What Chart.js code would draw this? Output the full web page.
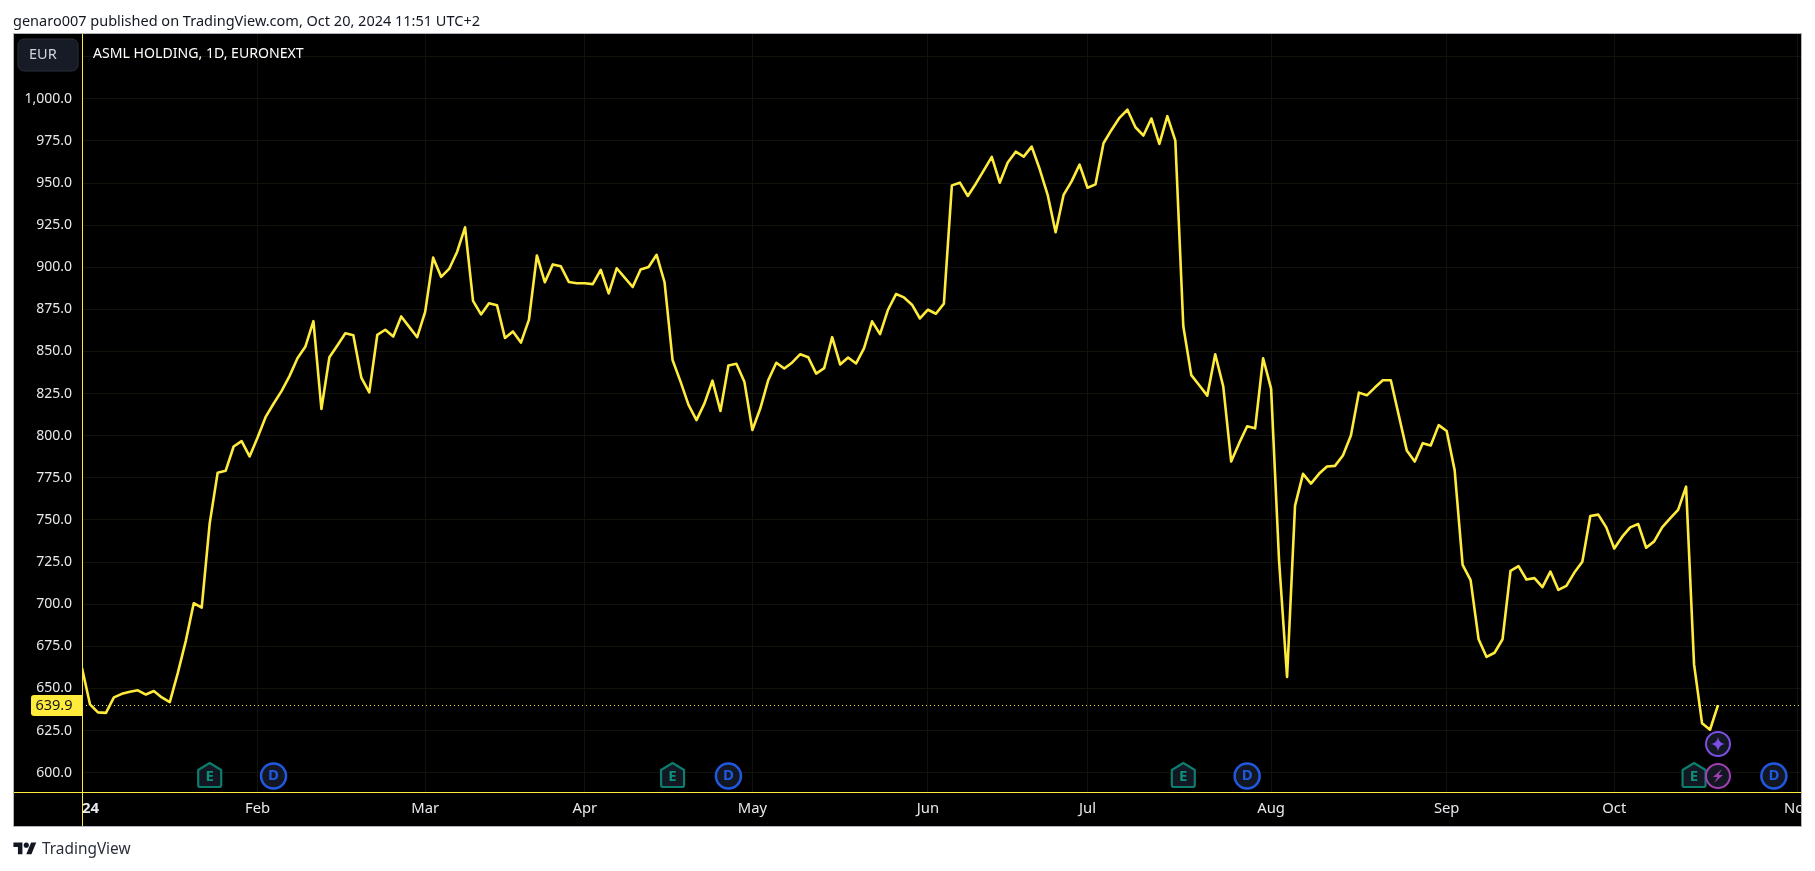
<!DOCTYPE html>
<html>
<head>
<meta charset="utf-8">
<title>ASML HOLDING, 1D, EURONEXT</title>
<script src="https://cdn.jsdelivr.net/npm/chart.js@4/dist/chart.umd.min.js"></script>
<style>
html,body{margin:0;padding:0;background:#fff;width:1815px;height:871px;overflow:hidden}
canvas{position:absolute;left:0;top:0}
.t{position:absolute;font-family:"Noto Sans",sans-serif;color:#131722;white-space:nowrap}
#head{left:13px;top:10px;font-size:14.5px;line-height:20px}
#brand{left:42px;top:838px;font-size:15.4px;line-height:22px;color:#2a2e39}
#logo{position:absolute;left:13px;top:840px}
</style>
</head>
<body>
<canvas id="c" width="1815" height="871"></canvas>
<div class="t" id="head">genaro007 published on TradingView.com, Oct 20, 2024 11:51 UTC+2</div>
<svg id="logo" width="24" height="18" viewBox="0 0 36 28"><path fill="#131722" d="M14 22H7V11H0V4h14v18zM28 22h-8l7.5-18h8L28 22z"/><circle fill="#131722" cx="20" cy="8" r="4"/></svg>
<div class="t" id="brand">TradingView</div>
<script>
const closes = [
662.2,640.6,635.8,635.5,644.7,646.8,648.0,648.9,646.4,648.5,
644.7,641.9,659.1,678.1,700.6,698.0,748.0,778.1,779.2,793.6,
796.8,787.7,798.9,811.0,819.0,826.5,835.4,846.0,853.0,868.0,
815.9,846.6,853.6,860.8,859.7,834.5,825.8,859.9,862.9,858.9,
870.8,864.6,858.5,873.5,905.7,894.3,899.0,909.1,923.7,880.1,
872.0,878.6,877.5,858.0,861.9,855.3,868.8,907.0,891.1,901.7,
900.6,891.3,890.5,890.5,890.0,898.5,884.5,899.4,893.9,888.3,
898.7,900.2,907.4,891.1,845.0,832.1,818.3,809.3,819.2,832.7,
814.7,841.7,842.7,832.1,803.4,816.3,833.1,843.3,839.9,843.5,
848.4,846.6,836.9,840.1,858.5,842.3,846.4,842.9,852.0,867.9,
860.3,874.8,884.1,882.1,877.8,869.6,874.8,872.4,878.4,948.6,
950.2,942.3,949.6,957.5,965.5,950.2,962.2,968.6,965.7,971.6,
958.3,943.0,920.8,943.0,951.0,960.9,947.2,949.2,973.6,981.5,
988.7,993.5,983.1,978.2,988.3,973.2,989.7,975.2,865.0,836.0,
830.0,823.8,848.4,829.4,784.7,795.6,805.6,804.4,846.0,828.0,
725.8,656.8,758.5,777.4,771.6,777.4,781.7,782.1,788.3,800.2,
825.6,824.0,828.6,832.9,832.9,812.1,791.3,784.7,795.6,794.2,
806.3,802.8,779.6,723.4,714.3,679.2,668.7,671.2,679.2,719.8,
722.6,714.7,715.5,710.1,719.4,708.5,710.9,718.8,725.2,752.4,
753.2,745.6,733.1,740.1,745.6,747.6,733.5,737.3,745.6,751.0,
756.0,769.8,664.3,629.4,625.5,640.1
];
const monthLabels = ["24","Feb","Mar","Apr","May","Jun","Jul","Aug","Sep","Oct","Nov"];
const monthIndex  = [0,22,43,63,84,106,126,149,171,192,215];
const yTicks      = [600,625,650,675,700,725,750,775,800,825,850,875,900,925,950,975,1000,1025];
const yTickLabels = ["600.0","625.0","650.0","675.0","700.0","725.0","750.0","775.0","800.0","825.0","850.0","875.0","900.0","925.0","950.0","975.0","1,000.0",""];
const earningsIndex = [16,74,138,202];
const dividendIndex = [24,81,146,212];
const eventIndex = [205];
const lastPrice = 639.9;
const xMax = 215.4, yMin = 588.55, yMax = 1038.45;
const UI = '"Noto Sans",sans-serif';
const YEL = '#FFEB3B', GRID = '#12120a', TXT = '#e8e9ec';

function badge(ctx,x,y,r,stroke,lw){
  ctx.beginPath();ctx.arc(x,y,r,0,Math.PI*2);ctx.fillStyle='#131722';ctx.fill();
  ctx.lineWidth=lw;ctx.strokeStyle=stroke;ctx.stroke();
}
function letter(ctx,s,x,y,col){
  ctx.fillStyle=col;ctx.font='bold 15px '+UI;ctx.textAlign='center';ctx.textBaseline='middle';ctx.fillText(s,x,y);
}
const frame = {
  id:'frame',
  beforeDraw(c){
    const x=c.ctx;x.save();x.fillStyle='#000';x.fillRect(13,34,1788,792);x.restore();
  },
  afterDraw(c){
    const x=c.ctx,sx=c.scales.x,sy=c.scales.y,a=c.chartArea;x.save();
    x.fillStyle='#fff';x.fillRect(1802,795,13,32);
    x.strokeStyle=YEL;x.lineWidth=1;x.beginPath();
    x.moveTo(a.left+.5,34);x.lineTo(a.left+.5,826);
    x.moveTo(13,a.bottom+.5);x.lineTo(1801,a.bottom+.5);x.stroke();
    x.strokeStyle='#b2b5be';x.strokeRect(13.5,33.5,1788,793);
    x.beginPath();x.roundRect(18,39,60,32,6);x.fillStyle='#171b26';x.fill();x.strokeStyle='#2a2e39';x.stroke();
    x.fillStyle='#d1d4dc';x.font='14.5px '+UI;x.textAlign='left';x.textBaseline='middle';x.fillText('EUR',29,55);
    x.fillStyle='#fff';x.font='14.1px '+UI;x.fillText('ASML HOLDING, 1D, EURONEXT',93,54);
    const py=sy.getPixelForValue(lastPrice);
    x.beginPath();x.roundRect(31,py-10.5,51,21,[3,0,0,3]);x.fillStyle=YEL;x.fill();
    x.fillStyle='#131722';x.textAlign='center';x.font='14.5px '+UI;x.fillText(lastPrice.toFixed(1),54,py+.5);
    const by=a.bottom-16, ey=a.bottom-48;
    earningsIndex.forEach(i=>{
      const cx=sx.getPixelForValue(i);
      x.beginPath();x.moveTo(cx,by-13);x.lineTo(cx+11.5,by-6);x.lineTo(cx+11.5,by+9);x.quadraticCurveTo(cx+11.5,by+11,cx+9.5,by+11);
      x.lineTo(cx-9.5,by+11);x.quadraticCurveTo(cx-11.5,by+11,cx-11.5,by+9);x.lineTo(cx-11.5,by-6);x.closePath();
      x.fillStyle='#131722';x.fill();x.lineWidth=2.2;x.strokeStyle='#0b7d6c';x.lineJoin='round';x.stroke();
      letter(x,'E',cx,by+1,'#0e8f7c');
    });
    dividendIndex.forEach(i=>{
      const cx=sx.getPixelForValue(i);
      badge(x,cx,by,12.5,'#2058e0',2.5);letter(x,'D',cx,by,'#2058e0');
    });
    eventIndex.forEach(i=>{
      const cx=sx.getPixelForValue(i);
      badge(x,cx,ey,12,'#7a4fe8',2);
      x.beginPath();x.moveTo(cx,ey-7);x.quadraticCurveTo(cx+1,ey-1,cx+7,ey);x.quadraticCurveTo(cx+1,ey+1,cx,ey+7);
      x.quadraticCurveTo(cx-1,ey+1,cx-7,ey);x.quadraticCurveTo(cx-1,ey-1,cx,ey-7);x.fillStyle='#7a4fe8';x.fill();
      badge(x,cx,by,12,'#a23fb4',2);
      x.beginPath();x.moveTo(cx+4,by-7);x.lineTo(cx-5,by+1);x.lineTo(cx-.5,by+1);x.lineTo(cx-4,by+7);x.lineTo(cx+5,by-1);x.lineTo(cx+.5,by-1);x.closePath();
      x.fillStyle='#a23fb4';x.fill();
    });
    x.restore();
  }
};
new Chart(document.getElementById('c'),{
  type:'line',
  data:{datasets:[
    {label:'Last price',data:[{x:0,y:lastPrice},{x:xMax,y:lastPrice}],borderColor:YEL,borderWidth:1,borderDash:[1,3],pointRadius:0,tension:0,order:2},
    {label:'ASML HOLDING',data:closes.map((v,i)=>({x:i,y:v})),borderColor:YEL,borderWidth:2.6,pointRadius:0,tension:0,borderJoinStyle:'round',order:1}
  ]},
  plugins:[frame],
  options:{
    responsive:false,animation:false,events:[],
    layout:{padding:{left:13,top:34,right:14,bottom:45}},
    plugins:{legend:{display:false},title:{display:false},tooltip:{enabled:false}},
    scales:{
      x:{type:'linear',min:0,max:xMax,
        afterFit(s){s.height=34;},
        afterBuildTicks(s){s.ticks=monthIndex.concat([xMax]).map(v=>({value:v}));},
        border:{display:false},
        grid:{color:c=>c.index===monthIndex.length?'transparent':GRID,lineWidth:1,drawTicks:false},
        ticks:{autoSkip:false,maxRotation:0,align:'inner',padding:8,color:TXT,
          font:c=>({family:UI,size:c.index===0?15:14.8,weight:c.index===0?'bold':'normal'}),
          callback(v,i){return i<monthLabels.length?monthLabels[i]:'';}}
      },
      y:{type:'linear',min:yMin,max:yMax,
        afterFit(s){s.width=69;},
        afterBuildTicks(s){s.ticks=yTicks.map(v=>({value:v}));},
        border:{display:false},
        grid:{color:GRID,lineWidth:1,drawTicks:false},
        ticks:{autoSkip:false,padding:10,color:TXT,font:{family:UI,size:14},
          callback(v,i){return yTickLabels[i];}}
      }
    }
  }
});
</script>
</body>
</html>
